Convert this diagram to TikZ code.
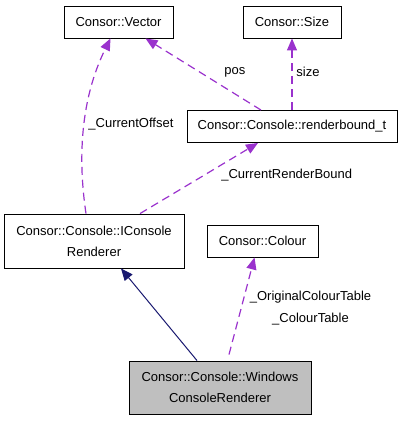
\documentclass[tikz,border=0pt]{standalone}
\usepackage{fontspec}
\setmainfont{Liberation Sans}
\usepackage{xcolor}
\usepackage{tikz}
\usetikzlibrary{arrows,arrows.meta,shapes,positioning}
\definecolor{usecol}{HTML}{9A32CD}
\definecolor{inhcol}{HTML}{191970}
\definecolor{curcol}{HTML}{BFBFBF}

\begin{document}
\begin{tikzpicture}[
    x=1pt, y=-1pt,
    box/.style={rectangle, draw, line width=0.9pt, inner sep=0pt, align=center, font=\fontsize{13}{21}\selectfont, minimum height=32pt},
    lbl/.style={inner sep=0pt, align=center, font=\fontsize{13}{22}\selectfont},
    uses/.style={draw=usecol, line width=1.2pt, dash pattern=on 8pt off 5pt, -{Triangle[length=12pt,width=10pt]}},
    inherit/.style={draw=inhcol, line width=1pt, -{Triangle[length=12pt,width=10pt]}}
]
\useasboundingbox (0,0) rectangle (403,421);

\node[box, minimum width=109pt] (vector)   at (118.5,22)  {Consor::Vector};
\node[box, minimum width=98pt]  (size)     at (292,22)    {Consor::Size};
\node[box, minimum width=210pt] (bound)    at (292,126.5) {Consor::Console::renderbound\_t};
\node[box, minimum width=180pt, minimum height=54pt] (renderer) at (94,241) {Consor::Console::IConsole\\Renderer};
\node[box, minimum width=111pt] (colour)   at (262.5,241) {Consor::Colour};
\node[box, fill=curcol, minimum width=182pt, minimum height=53pt] (windows) at (220,387.5) {Consor::Console::Windows\\ConsoleRenderer};

\draw[uses] ([xshift=-31]bound.north) -- node[lbl, pos=0.53, xshift=35] {pos} ([xshift=27]vector.south);
\draw[uses] (bound.north) -- node[lbl, pos=0.53, xshift=16] {size} (size.south);
\draw[uses] ([xshift=-8]renderer.north) .. controls (78,160) and (80,100) .. node[lbl, pos=0.5, anchor=west, xshift=4, yshift=5] {\_CurrentOffset} ([xshift=-8]vector.south);
\draw[uses] ([xshift=46]renderer.north) -- node[lbl, pos=0.54, anchor=west, xshift=17] {\_CurrentRenderBound} ([xshift=-34]bound.south);
\draw[uses] ([xshift=9,yshift=6]windows.north) -- node[lbl, pos=0.48, anchor=west, xshift=8] {\_OriginalColourTable\\\_ColourTable} ([xshift=-8]colour.south);
\draw[inherit] ([xshift=-23]windows.north) -- ([xshift=27]renderer.south);
\end{tikzpicture}
\end{document}
